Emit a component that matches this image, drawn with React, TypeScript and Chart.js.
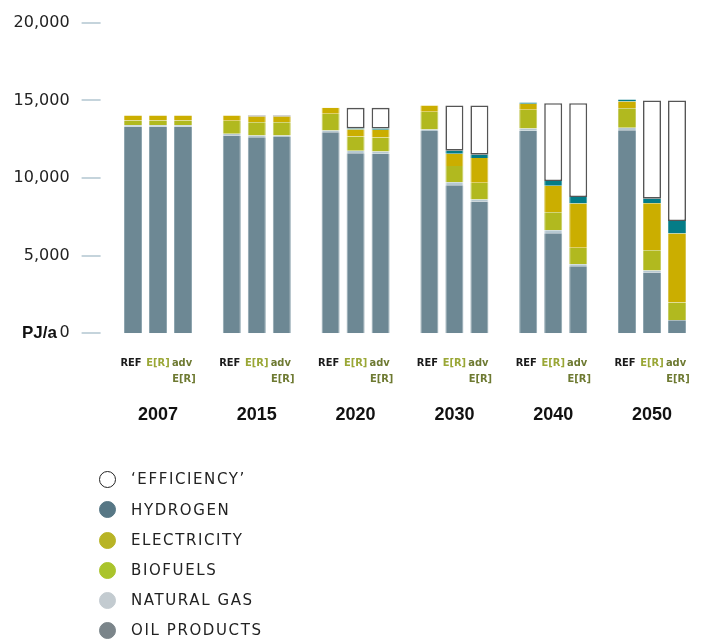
import React, { useEffect, useRef } from 'react';
import { Chart, registerables } from 'chart.js';

Chart.register(...registerables);

const years = ['2007', '2015', '2020', '2030', '2040', '2050'];
const scenarioKeys = ['REF', 'ER', 'ADV'];
const yTicks = [0, 5000, 10000, 15000, 20000];

// REF scenario (PJ/a)
const refOil = [13300, 12740, 12950, 13020, 13040, 13080];
const refGas = [100, 110, 110, 110, 150, 150];
const refBio = [300, 840, 1070, 1130, 1200, 1260];
const refElec = [330, 340, 390, 410, 390, 430];
const refHyd = [0, 0, 0, 0, 80, 130];
const refEff = [0, 0, 0, 0, 0, 0];

// E[R] scenario
const erOil = [13300, 12630, 11600, 9540, 6450, 3910];
const erGas = [100, 100, 150, 180, 180, 140];
const erBio = [300, 860, 920, 1050, 1160, 1290];
const erElec = [330, 370, 450, 790, 1710, 3030];
const erHyd = [0, 0, 70, 200, 300, 300];
const erEff = [0, 70, 1330, 2910, 5020, 6320];

// advanced E[R] scenario
const advOil = [13300, 12640, 11560, 8490, 4310, 840];
const advGas = [100, 100, 150, 130, 130, 0];
const advBio = [300, 850, 900, 1080, 1070, 1140];
const advElec = [330, 370, 500, 1580, 2840, 4440];
const advHyd = [0, 0, 70, 220, 420, 810];
const advEff = [0, 70, 1340, 3170, 6050, 7760];

const fuelNames = ['Oil products', 'Natural gas', 'Biofuels', 'Electricity', 'Hydrogen', "'Efficiency'"];
const barColors = ['#6d8894', '#b6c8d1', '#b1b91f', '#cbae00', '#047c87', '#ffffff'];
const edgeColors = ['#8ea5af', '#cbd8de', '#c6cc62', '#d9c44c', '#3f9aa2', '#555555'];

const seriesByScenario: Record<string, number[][]> = {
  REF: [refOil, refGas, refBio, refElec, refHyd, refEff],
  ER: [erOil, erGas, erBio, erElec, erHyd, erEff],
  ADV: [advOil, advGas, advBio, advElec, advHyd, advEff],
};

const legendItems = [
  { label: "\u2018EFFICIENCY\u2019", fill: '#ffffff', border: '#222222' },
  { label: 'HYDROGEN', fill: '#577785', border: '#577785' },
  { label: 'ELECTRICITY', fill: '#b8b426', border: '#b8b426' },
  { label: 'BIOFUELS', fill: '#aac42c', border: '#aac42c' },
  { label: 'NATURAL GAS', fill: '#c3cbd0', border: '#c3cbd0' },
  { label: 'OIL PRODUCTS', fill: '#7b858a', border: '#7b858a' },
];

const overlayPlugin = {
  id: 'overlay',
  afterDraw(chart: any) {
    const ctx = chart.ctx;
    const area = chart.chartArea;
    const y = chart.scales.y;
    ctx.save();
    // tick marks
    ctx.strokeStyle = '#c5d4dc';
    ctx.lineWidth = 2;
    yTicks.forEach((v) => {
      const py = Math.round(y.getPixelForValue(v));
      ctx.beginPath();
      ctx.moveTo(area.left - 27, py);
      ctx.lineTo(area.left - 8, py);
      ctx.stroke();
    });
    // unit label
    ctx.fillStyle = '#111111';
    ctx.font = 'bold 17px "Liberation Sans"';
    ctx.textAlign = 'right';
    ctx.textBaseline = 'middle';
    ctx.fillText('PJ/a', 57, y.getPixelForValue(0));
    // scenario labels
    ctx.font = 'bold 11px "DejaVu Sans Condensed", "DejaVu Sans"';
    ctx.textAlign = 'center';
    const y1 = area.bottom + 29.5;
    const y2 = area.bottom + 45.5;
    const refMeta = chart.getDatasetMeta(0);
    const erMeta = chart.getDatasetMeta(6);
    const advMeta = chart.getDatasetMeta(12);
    years.forEach((_, i) => {
      const xr = refMeta.data[i].x;
      const xe = erMeta.data[i].x;
      const xa = advMeta.data[i].x;
      ctx.fillStyle = '#1a1a1a';
      ctx.fillText('REF', xr - 2, y1);
      ctx.fillStyle = '#9aa736';
      ctx.fillText('E[R]', xe, y1);
      ctx.fillStyle = '#6e7a32';
      ctx.fillText('adv', xa - 1, y1);
      ctx.fillText('E[R]', xa + 1, y2);
    });
    ctx.restore();
  },
};

export default function App() {
  const canvasRef = useRef<HTMLCanvasElement | null>(null);

  useEffect(() => {
    if (!canvasRef.current) return;
    const datasets: any[] = [];
    scenarioKeys.forEach((sk) => {
      seriesByScenario[sk].forEach((values, fi) => {
        const isEff = fi === 5;
        datasets.push({
          label: fuelNames[fi] + ' ' + sk,
          data: values,
          stack: sk,
          backgroundColor: barColors[fi],
          borderColor: edgeColors[fi],
          borderWidth: isEff ? 1.6 : { left: 1, right: 1, top: 0, bottom: 0 },
          borderSkipped: false,
        });
      });
    });

    const chart = new Chart(canvasRef.current, {
      type: 'bar',
      data: { labels: years, datasets },
      options: {
        animation: false,
        responsive: false,
        layout: { padding: { top: 22.7, right: 6.6, left: 0, bottom: 0 } },
        datasets: { bar: { categoryPercentage: 0.759, barPercentage: 0.72 } } as any,
        plugins: { legend: { display: false }, tooltip: { enabled: false } },
        scales: {
          x: {
            stacked: true,
            grid: { display: false, drawTicks: false },
            border: { display: false },
            ticks: {
              padding: 71,
              color: '#111111',
              font: { family: 'Liberation Sans', size: 18, weight: 'bold' },
              maxRotation: 0,
              autoSkip: false,
            },
            afterFit: (s: any) => {
              s.height = 308.7;
              s.paddingLeft = 0;
              s.paddingRight = 0;
            },
          },
          y: {
            stacked: true,
            min: 0,
            max: 20000,
            grid: { display: false, drawTicks: false },
            border: { display: false },
            ticks: {
              stepSize: 5000,
              padding: 39,
              color: '#222222',
              font: { family: 'DejaVu Sans', size: 16 },
              callback: (v: any) => Number(v).toLocaleString('en-US'),
            },
            afterFit: (s: any) => {
              s.width = 108.6;
              s.paddingTop = 0;
              s.paddingBottom = 0;
            },
          },
        },
      },
      plugins: [overlayPlugin],
    });
    return () => chart.destroy();
  }, []);

  const rowCenters = [479, 509.5, 540, 570, 600, 630];

  return (
    <div style={{ position: 'fixed', left: 0, top: 0, width: 708, height: 642, background: '#ffffff', overflow: 'hidden' }}>
      <canvas ref={canvasRef} width={708} height={642} style={{ display: 'block', position: 'absolute', left: 0, top: 0 }} />
      {legendItems.map((it, i) => (
        <div
          key={it.label}
          style={{
            position: 'absolute',
            left: 99,
            top: rowCenters[i] - 10,
            height: 20,
            display: 'flex',
            alignItems: 'center',
            fontFamily: '"DejaVu Sans", sans-serif',
            fontSize: 15,
            letterSpacing: '1.6px',
            color: '#222222',
            whiteSpace: 'nowrap',
          }}
        >
          <span
            style={{
              display: 'inline-block',
              width: 17,
              height: 17,
              boxSizing: 'border-box',
              borderRadius: '50%',
              background: it.fill,
              border: `1.5px solid ${it.border}`,
              marginRight: 15,
            }}
          />
          <span>{it.label}</span>
        </div>
      ))}
    </div>
  );
}
